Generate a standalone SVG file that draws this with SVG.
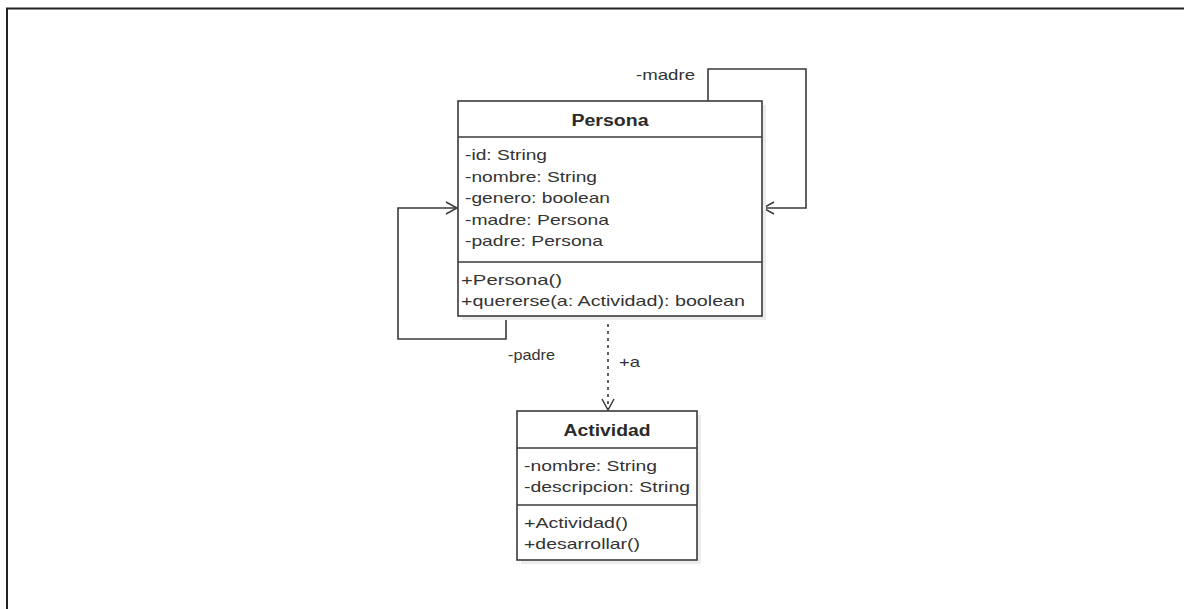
<svg xmlns="http://www.w3.org/2000/svg" width="1184" height="609" viewBox="0 0 1184 609">
  <style>
    .box { fill: #ffffff; stroke: #3a3a3a; stroke-width: 1.6; }
    .shadow { fill: #ececec; stroke: none; }
    .sep { stroke: #3a3a3a; stroke-width: 1.6; fill: none; }
    .t { font-family: "Liberation Sans", Arial, sans-serif; font-size: 15px; fill: #333333; }
    .title { font-family: "Liberation Sans", Arial, sans-serif; font-size: 16px; font-weight: bold; fill: #2a2a2a; }
    .edge { fill: none; stroke: #3a3a3a; stroke-width: 1.6; }
    .dash { stroke-dasharray: 3 4; }
  </style>
  <defs>
    <marker id="open" markerUnits="userSpaceOnUse" markerWidth="16" markerHeight="16" refX="12" refY="7" orient="auto">
      <path d="M1,1 L12,7 L1,13" fill="none" stroke="#3a3a3a" stroke-width="1.5"/>
    </marker>
  </defs>
  <rect x="0" y="0" width="1184" height="609" fill="#ffffff"/>
  <path d="M7,609 L7,8.5 L1184,8.5" fill="none" stroke="#222222" stroke-width="2"/>

  <g id="connectors">
    <path class="edge" d="M708,101 L708,69 L806,69 L806,208 L763,208" marker-end="url(#open)"/>
    <path class="edge" d="M506,316 L506,339 L398,339 L398,208 L457,208" marker-end="url(#open)"/>
    <path class="edge dash" d="M608,317 L608,410" marker-end="url(#open)"/>
    <text class="t" x="636" y="80" textLength="59" lengthAdjust="spacingAndGlyphs">-madre</text>
    <text class="t" x="508" y="360" textLength="47" lengthAdjust="spacingAndGlyphs">-padre</text>
    <text class="t" x="619" y="367" textLength="21" lengthAdjust="spacingAndGlyphs">+a</text>
  </g>

  <g id="persona">
    <rect class="shadow" x="462" y="105" width="304" height="215"/>
    <rect class="box" x="458" y="101" width="304" height="215"/>
    <line class="sep" x1="458" y1="137" x2="762" y2="137"/>
    <line class="sep" x1="458" y1="262" x2="762" y2="262"/>
    <text class="title" x="610" y="125.5" text-anchor="middle" textLength="77" lengthAdjust="spacingAndGlyphs">Persona</text>
    <text class="t" x="465" y="160" textLength="82" lengthAdjust="spacingAndGlyphs">-id: String</text>
    <text class="t" x="465" y="181.6" textLength="132" lengthAdjust="spacingAndGlyphs">-nombre: String</text>
    <text class="t" x="465" y="203.2" textLength="145" lengthAdjust="spacingAndGlyphs">-genero: boolean</text>
    <text class="t" x="465" y="224.8" textLength="144" lengthAdjust="spacingAndGlyphs">-madre: Persona</text>
    <text class="t" x="465" y="246.4" textLength="138" lengthAdjust="spacingAndGlyphs">-padre: Persona</text>
    <text class="t" x="461" y="285" textLength="101" lengthAdjust="spacingAndGlyphs">+Persona()</text>
    <text class="t" x="461" y="306" textLength="284" lengthAdjust="spacingAndGlyphs">+quererse(a: Actividad): boolean</text>
  </g>

  <g id="actividad">
    <rect class="shadow" x="521" y="415" width="180" height="149"/>
    <rect class="box" x="517" y="411" width="180" height="149"/>
    <line class="sep" x1="517" y1="448" x2="697" y2="448"/>
    <line class="sep" x1="517" y1="505" x2="697" y2="505"/>
    <text class="title" x="607" y="436" text-anchor="middle" textLength="87" lengthAdjust="spacingAndGlyphs">Actividad</text>
    <text class="t" x="524" y="471" textLength="133" lengthAdjust="spacingAndGlyphs">-nombre: String</text>
    <text class="t" x="524" y="492" textLength="166" lengthAdjust="spacingAndGlyphs">-descripcion: String</text>
    <text class="t" x="524" y="528" textLength="104" lengthAdjust="spacingAndGlyphs">+Actividad()</text>
    <text class="t" x="524" y="549" textLength="116" lengthAdjust="spacingAndGlyphs">+desarrollar()</text>
  </g>
</svg>
